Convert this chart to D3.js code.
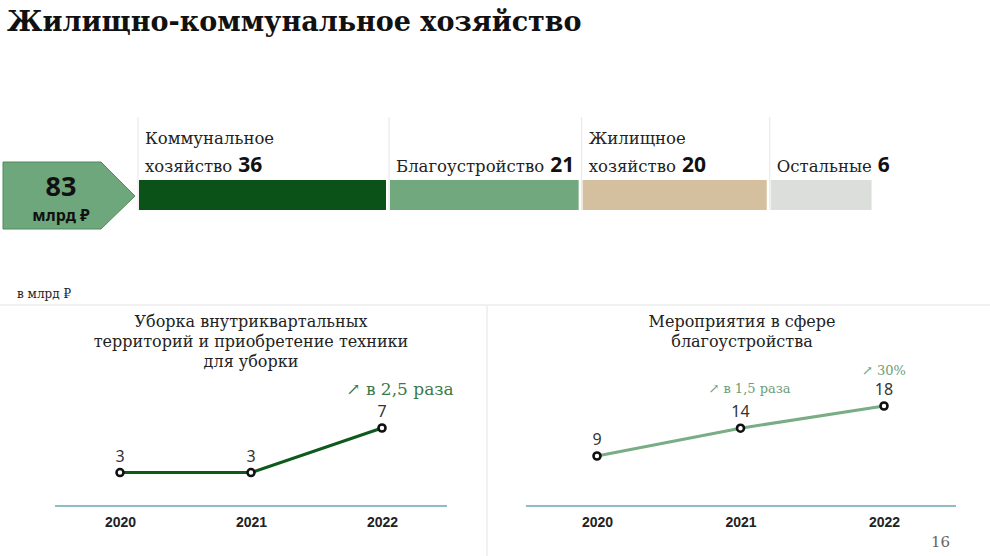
<!DOCTYPE html>
<html>
<head>
<meta charset="utf-8">
<script src="https://cdn.jsdelivr.net/npm/d3@7"></script>
<style>
  body{margin:0;background:#fff;}
  svg{display:block;}
  .serif{font-family:"DejaVu Serif",serif;}
  .sans{font-family:"Noto Sans",sans-serif;}
  .arial{font-family:"Liberation Sans",Arial,sans-serif;}
</style>
</head>
<body>
<svg id="chart"></svg>
<script>
// top split of 83 bn
var total=83;
var partLabels=[["Коммунальное","хозяйство"],["Благоустройство"],["Жилищное","хозяйство"],["Остальные"]];
var partValues=[36,21,20,6];
var partColors=["#0b5218","#72a87e","#d4c09e","#dcdedb"];

// bottom line charts
var years=["2020","2021","2022"];
var cleaningValues=[3,3,7];
var improvementValues=[9,14,18];
var cleaningTitle=["Уборка внутриквартальных","территорий и приобретение техники","для уборки"];
var improvementTitle=["Мероприятия в сфере","благоустройства"];
var cleaningNotes=[{i:2,text:"↗ в 2,5 раза"}];
var improvementNotes=[{i:1,text:"↗ в 1,5 раза"},{i:2,text:"↗ 30%"}];

var W=990,H=556;
var svg=d3.select("#chart").attr("width",W).attr("height",H);

svg.append("text")
   .attr("class","serif")
   .attr("x",7).attr("y",31)
   .attr("font-size",27).attr("font-weight","bold")
   .attr("fill","#111")
   .text("Жилищно-коммунальное хозяйство");

// arrow badge
var badge=svg.append("g");
badge.append("path")
     .attr("d","M3,162 L101,162 L135,196 L101,229 L3,229 Z")
     .attr("fill","#6da77b").attr("stroke","#4f8b5d").attr("stroke-width",1);
badge.append("text").attr("class","sans")
     .attr("x",61).attr("y",196).attr("text-anchor","middle")
     .attr("font-size",27).attr("font-weight","bold").attr("fill","#111")
     .text(total);
badge.append("text").attr("class","sans")
     .attr("x",61).attr("y",221).attr("text-anchor","middle")
     .attr("font-size",16).attr("font-weight","bold").attr("fill","#111")
     .text("млрд ₽");

// bars (sqrt scale, as the widths in the slide are not linear)
var wScale=d3.scaleSqrt().domain([0,36]).range([0,247]);
var gap=4,x0=139;
var starts=[];
partValues.reduce(function(acc,v){starts.push(acc);return acc+wScale(v)+gap;},x0);

var parts=svg.selectAll("g.part")
   .data(partValues)
   .enter()
   .append("g")
   .classed("part",true);
parts.append("line")
     .attr("x1",function(d,i){return starts[i]-1;})
     .attr("x2",function(d,i){return starts[i]-1;})
     .attr("y1",117).attr("y2",210)
     .attr("stroke","#e6e6e6");
parts.append("rect")
     .attr("x",function(d,i){return starts[i];})
     .attr("y",180)
     .attr("width",function(d){return wScale(d);})
     .attr("height",30)
     .attr("fill",function(d,i){return partColors[i];});
parts.each(function(d,i){
  var g=d3.select(this);
  var lines=partLabels[i];
  lines.forEach(function(l,j){
    var t=g.append("text").attr("class","serif")
           .attr("x",starts[i]+6)
           .attr("y",172-(lines.length-1-j)*28)
           .attr("font-size",16.5).attr("fill","#222");
    t.append("tspan").text(l);
    if(j==lines.length-1){
      t.append("tspan").attr("class","sans")
       .attr("dx",6).attr("font-size",21).attr("font-weight","bold")
       .attr("fill","#111").text(d);
    }
  });
});

svg.append("text").attr("class","serif")
   .attr("x",17).attr("y",298).attr("font-size",12).attr("fill","#222")
   .text("в млрд ₽");
svg.append("line").attr("x1",0).attr("x2",W).attr("y1",305).attr("y2",305)
   .attr("stroke","#ececec").attr("stroke-width",1.5);
svg.append("line").attr("x1",487).attr("x2",487).attr("y1",305).attr("y2",H)
   .attr("stroke","#ececec").attr("stroke-width",1.5);

function lineChart(opt){
  var g=svg.append("g");
  var xScale=d3.scalePoint().domain(years).range(opt.xr);
  var yScale=d3.scaleLinear().domain([0,opt.ymax]).range([506,opt.ytop]);
  opt.title.forEach(function(t,j){
    g.append("text").attr("class","serif")
     .attr("x",opt.cx).attr("y",327+j*20)
     .attr("text-anchor","middle").attr("font-size",16).attr("fill","#222")
     .text(t);
  });
  g.append("line")
   .attr("x1",opt.ax[0]).attr("x2",opt.ax[1])
   .attr("y1",yScale(0)).attr("y2",yScale(0))
   .attr("stroke","#6aa9ad").attr("stroke-width",1.5);
  var xAxis=d3.axisBottom(xScale).tickSize(0).tickPadding(11);
  var ax=g.append("g")
   .attr("transform","translate(0,"+yScale(0)+")")
   .call(xAxis);
  ax.select(".domain").remove();
  ax.selectAll("text")
    .attr("class","arial").attr("font-size",14).attr("font-weight","bold").attr("fill","#222");
  var line=d3.line()
             .x(function(d,i){return xScale(years[i]);})
             .y(function(d){return yScale(d);});
  g.append("path")
   .datum(opt.values)
   .attr("d",line)
   .attr("fill","none")
   .attr("stroke",opt.color)
   .attr("stroke-width",3);
  g.selectAll("circle")
   .data(opt.values)
   .enter()
   .append("circle")
   .attr("cx",function(d,i){return xScale(years[i]);})
   .attr("cy",function(d){return yScale(d);})
   .attr("r",3.5)
   .attr("fill","#fff").attr("stroke","#111").attr("stroke-width",2.6);
  g.selectAll("text.val")
   .data(opt.values)
   .enter()
   .append("text")
   .classed("val sans",true)
   .attr("x",function(d,i){return xScale(years[i]);})
   .attr("y",function(d){return yScale(d)-11;})
   .attr("text-anchor","middle").attr("font-size",16).attr("fill","#333")
   .text(function(d){return d;});
  g.selectAll("text.note")
   .data(opt.notes)
   .enter()
   .append("text")
   .classed("note serif",true)
   .attr("x",function(d){return xScale(years[d.i])+opt.noteDx[d.i];})
   .attr("y",function(d){return yScale(opt.values[d.i])+opt.noteDy[d.i];})
   .attr("text-anchor","middle")
   .attr("font-size",opt.noteSize)
   .attr("fill",opt.noteColor)
   .text(function(d){return d.text;});
}

lineChart({xr:[120,382],ymax:7,ytop:428,cx:251,ax:[55,447],title:cleaningTitle,
  values:cleaningValues,color:"#0e5a1c",notes:cleaningNotes,noteDx:{2:18},noteDy:{2:-33},
  noteSize:17,noteColor:"#3b7a4a"});
lineChart({xr:[597,884],ymax:18,ytop:406,cx:742,ax:[526,956],title:improvementTitle,
  values:improvementValues,color:"#78ad85",notes:improvementNotes,noteDx:{1:9,2:0},noteDy:{1:-35,2:-31},
  noteSize:13,noteColor:"#6a9e77"});

svg.append("text").attr("class","serif")
   .attr("x",950).attr("y",547).attr("text-anchor","end")
   .attr("font-size",15).attr("fill","#666")
   .text("16");
</script>
</body>
</html>
